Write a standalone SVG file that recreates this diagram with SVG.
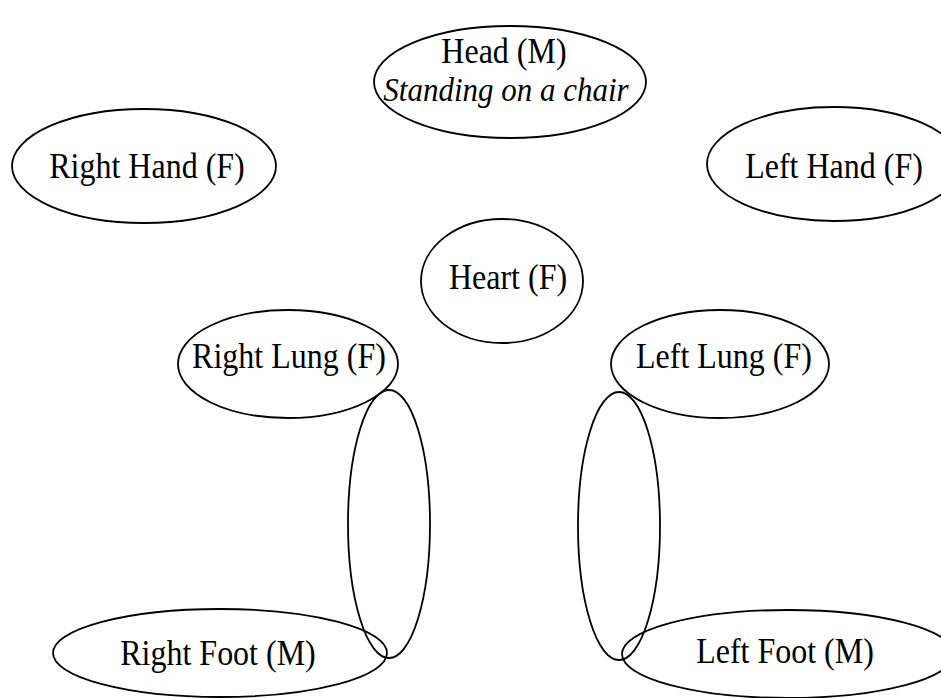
<svg xmlns="http://www.w3.org/2000/svg" width="941" height="698" viewBox="0 0 941 698">
  <style>
    .node ellipse { fill: none; stroke: #000; stroke-width: 1.8; }
    .edge { fill: none; stroke: #000; stroke-width: 1.8; }
    text { font-family: "Liberation Serif", "Times New Roman", serif; font-size: 32px; fill: #000; text-anchor: middle; }
    .it { font-style: italic; font-size: 31px; }
  </style>
  <rect width="941" height="698" fill="#fff"/>

  <!-- paired edges between each lung and foot, drawn as two arcs -->
  <g id="connectors">
    <path class="edge" d="M389,390 A41,134 0 0 0 389,658"/>
    <path class="edge" d="M389,658 A41,134 0 0 0 389,390"/>
    <path class="edge" d="M619,392 A41,134 0 0 0 619,660"/>
    <path class="edge" d="M619,660 A41,134 0 0 0 619,392"/>
  </g>

  <g id="head" class="node">
    <ellipse cx="510" cy="82" rx="136" ry="56"/>
    <text transform="translate(504,63) scale(1,1.12)">Head (M)</text>
    <text class="it" transform="translate(506,101) scale(1,1.12)">Standing on a chair</text>
  </g>
  <g id="right-hand" class="node">
    <ellipse cx="144" cy="166" rx="132" ry="57"/>
    <text transform="translate(147,178) scale(1,1.12)">Right Hand (F)</text>
  </g>
  <g id="left-hand" class="node">
    <ellipse cx="834" cy="164" rx="127" ry="57"/>
    <text transform="translate(834,178) scale(1,1.12)">Left Hand (F)</text>
  </g>
  <g id="heart" class="node">
    <ellipse cx="502" cy="281" rx="81" ry="62"/>
    <text transform="translate(508,289) scale(1,1.12)">Heart (F)</text>
  </g>
  <g id="right-lung" class="node">
    <ellipse cx="288" cy="364" rx="110" ry="54"/>
    <text transform="translate(289,368) scale(1,1.12)">Right Lung (F)</text>
  </g>
  <g id="left-lung" class="node">
    <ellipse cx="720" cy="364" rx="109" ry="54"/>
    <text transform="translate(724,368) scale(1,1.12)">Left Lung (F)</text>
  </g>
  <g id="right-foot" class="node">
    <ellipse cx="220" cy="653" rx="167" ry="44"/>
    <text transform="translate(218,665) scale(1,1.12)">Right Foot (M)</text>
  </g>
  <g id="left-foot" class="node">
    <ellipse cx="788" cy="654" rx="166" ry="44"/>
    <text transform="translate(785,663) scale(1,1.12)">Left Foot (M)</text>
  </g>
</svg>
